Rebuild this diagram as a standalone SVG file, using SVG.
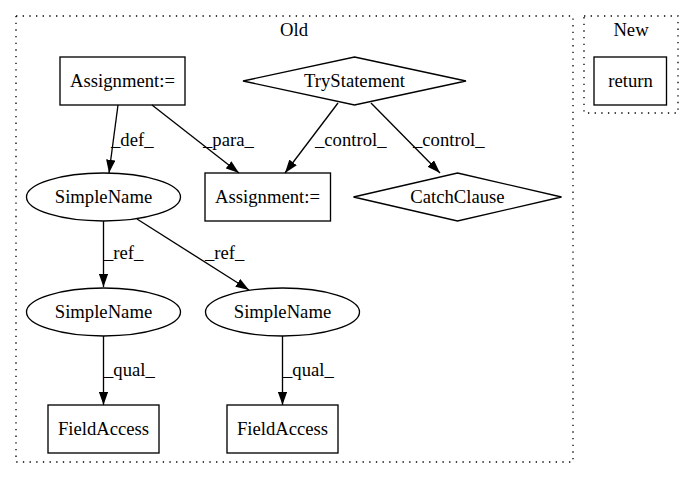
<svg xmlns="http://www.w3.org/2000/svg" width="693" height="480" viewBox="0 0 693 480">
<style>
.n{fill:none;stroke:#000;stroke-width:1.33}
.c{fill:none;stroke:#000;stroke-width:1.33;stroke-dasharray:1.33,5.33}
.e{fill:none;stroke:#000;stroke-width:1.33}
.m{text-anchor:middle}
</style>
<defs>
<marker id="a" viewBox="0 0 13.3 9.3" markerWidth="13.3" markerHeight="9.3" refX="13.3" refY="4.65" orient="auto" markerUnits="userSpaceOnUse">
<path d="M0,0L13.3,4.65L0,9.3z" fill="#000"/>
</marker>
</defs>
<rect width="693" height="480" fill="#fff"/>
<g font-family="Liberation Serif" font-size="18.67" fill="#000">
<g id="cluster_old">
<rect class="c" x="16" y="16" width="557" height="446"/>
<text class="m" x="294" y="36">Old</text>
</g>
<g id="cluster_new">
<rect class="c" x="584" y="16" width="94" height="97"/>
<text class="m" x="631" y="36">New</text>
</g>
<g id="edges">
<path class="e" d="M118,105L109,173" marker-end="url(#a)"/>
<text x="111" y="146">_def_</text>
<path class="e" d="M152,105L239,173" marker-end="url(#a)"/>
<text x="203" y="146">_para_</text>
<path class="e" d="M338,103L285,173" marker-end="url(#a)"/>
<text x="315" y="146">_control_</text>
<path class="e" d="M371,103L440,173" marker-end="url(#a)"/>
<text x="413" y="146">_control_</text>
<path class="e" d="M103.5,221L103.5,287" marker-end="url(#a)"/>
<text x="104" y="259">_ref_</text>
<path class="e" d="M137,219L249,290" marker-end="url(#a)"/>
<text x="205" y="259">_ref_</text>
<path class="e" d="M103.5,336L103.5,405" marker-end="url(#a)"/>
<text x="104" y="376">_qual_</text>
<path class="e" d="M282.5,336L282.5,405" marker-end="url(#a)"/>
<text x="283" y="376">_qual_</text>
</g>
<g id="assign1">
<rect class="n" x="60" y="57" width="125" height="48"/>
<text class="m" x="122.5" y="87">Assignment:=</text>
</g>
<g id="try">
<polygon class="n" points="354.5,57 466,81 354.5,105 243,81"/>
<text class="m" x="354.5" y="87">TryStatement</text>
</g>
<g id="return">
<rect class="n" x="594" y="57" width="72.5" height="48"/>
<text class="m" x="630.5" y="87">return</text>
</g>
<g id="simplename1">
<ellipse class="n" cx="103.5" cy="197" rx="77" ry="24"/>
<text class="m" x="103.5" y="203">SimpleName</text>
</g>
<g id="assign2">
<rect class="n" x="205" y="173" width="125.5" height="48"/>
<text class="m" x="267.5" y="203">Assignment:=</text>
</g>
<g id="catch">
<polygon class="n" points="457.5,173 561.5,197 457.5,221 353.5,197"/>
<text class="m" x="457.5" y="203">CatchClause</text>
</g>
<g id="simplename2">
<ellipse class="n" cx="103.5" cy="312" rx="77" ry="24"/>
<text class="m" x="103.5" y="318">SimpleName</text>
</g>
<g id="simplename3">
<ellipse class="n" cx="282.5" cy="312" rx="77" ry="24"/>
<text class="m" x="282.5" y="318">SimpleName</text>
</g>
<g id="fieldaccess1">
<rect class="n" x="48" y="405" width="111" height="48"/>
<text class="m" x="103.5" y="435">FieldAccess</text>
</g>
<g id="fieldaccess2">
<rect class="n" x="227" y="405" width="111" height="48"/>
<text class="m" x="282.5" y="435">FieldAccess</text>
</g>
</g>
</svg>
